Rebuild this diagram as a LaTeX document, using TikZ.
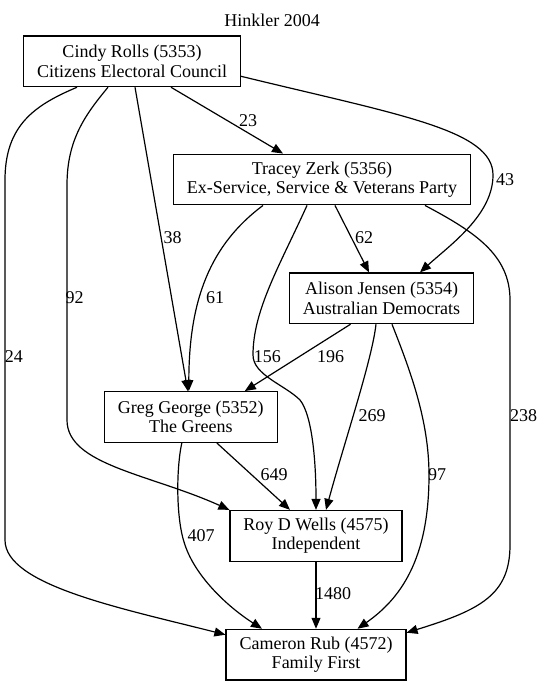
\documentclass[tikz,border=0pt]{standalone}
\usepackage{fontspec}
\setmainfont{Liberation Serif}
\usetikzlibrary{arrows.meta}

\begin{document}
\begin{tikzpicture}[x=1pt, y=-1pt,
            every node/.style={font=\fontsize{18}{19.5}\selectfont},
            party_style/.style={draw, line width=1.2pt, align=center, inner xsep=13.5pt, inner ysep=0pt, minimum height=50.7pt},
            edge_style/.style={draw=black, line width=1.2pt, -{Triangle[length=11pt, width=9pt]}}]
            \tikzset{vote_style/.style={inner sep=0pt}}
            \useasboundingbox (0, 0) rectangle (544, 685);
            \node (title) at (272, 20.7) {Hinkler 2004};
            \node [party_style] (cindy) at (132, 61.3) {Cindy Rolls (5353)\\Citizens Electoral Council};
            \node [party_style] (tracey) at (322, 179.5) {Tracey Zerk (5356)\\Ex-Service, Service \& Veterans Party};
            \node [party_style] (alison) at (381.5, 298.3) {Alison Jensen (5354)\\Australian Democrats};
            \node [party_style] (greg) at (190.8, 417) {Greg George (5352)\\The Greens};
            \node [party_style] (roy) at (316, 535.8) {Roy D Wells (4575)\\Independent};
            \node [party_style] (cameron) at (316, 654.7) {Cameron Rub (4572)\\Family First};
            % from Cindy Rolls
            \draw [edge_style] ([xshift=39pt]cindy.south) -- ([xshift=-39pt]tracey.north);
            \draw [edge_style] ([yshift=-15pt]cindy.east) .. controls (400, 115) and (493, 130) .. (493, 175) .. controls (493, 215) and (450, 245) .. ([xshift=38.5pt]alison.north);
            \draw [edge_style] ([xshift=3pt]cindy.south) -- ([xshift=-3pt]greg.north);
            \draw [edge_style] ([xshift=-24pt]cindy.south) .. controls (85, 115) and (67, 140) .. (67, 185) -- (67, 420) .. controls (67, 465) and (150, 474) .. (roy.north west);
            \draw [edge_style] ([xshift=-55pt]cindy.south) .. controls (35, 105) and (5, 125) .. (5, 180) -- (5, 540) .. controls (5, 585) and (120, 608) .. ([yshift=20pt]cameron.west);
            % from Tracey Zerk
            \draw [edge_style] ([xshift=-59pt]tracey.south) .. controls (210, 245) and (189, 300) .. ([xshift=-2pt]greg.north);
            \draw [edge_style] ([xshift=-15pt]tracey.south) .. controls (280, 265) and (253, 310) .. (253, 355) .. controls (253, 375) and (285, 385) .. (300, 400) .. controls (312, 415) and (316, 460) .. (roy.north);
            \draw [edge_style] ([xshift=13pt]tracey.south) -- ([xshift=-12.5pt]alison.north);
            \draw [edge_style] ([xshift=103pt]tracey.south) .. controls (475, 232) and (510, 255) .. (510, 300) -- (510, 545) .. controls (510, 595) and (480, 610) .. ([yshift=22pt]cameron.east);
            % from Alison Jensen
            \draw [edge_style] ([xshift=-31pt]alison.south) -- ([xshift=54pt]greg.north);
            \draw [edge_style] ([xshift=-5.5pt]alison.south) .. controls (372, 360) and (345, 440) .. ([xshift=10pt]roy.north);
            \draw [edge_style] ([xshift=10.5pt]alison.south) .. controls (410, 370) and (429, 420) .. (429, 475) .. controls (429, 560) and (400, 599) .. ([xshift=41.5pt]cameron.north);
            % from Greg George and Roy D Wells
            \draw [edge_style] ([xshift=26pt]greg.south) -- ([xshift=-26pt]roy.north);
            \draw [edge_style] ([xshift=-9pt]greg.south) .. controls (176, 470) and (176, 520) .. (185, 545) .. controls (195, 575) and (225, 605) .. ([xshift=-54pt]cameron.north);
            \draw [edge_style] (roy) -- (cameron);
            % vote counts
            \node [vote_style] (v23) at (248, 121) {23};
            \node [vote_style] (v43) at (505, 180) {43};
            \node [vote_style] (v38) at (172.6, 238) {38};
            \node [vote_style] (v92) at (74.7, 298) {92};
            \node [vote_style] (v24) at (14, 357) {24};
            \node [vote_style] (v61) at (215, 298) {61};
            \node [vote_style] (v156) at (267.4, 357) {156};
            \node [vote_style] (v62) at (364, 238) {62};
            \node [vote_style] (v238) at (523.6, 416) {238};
            \node [vote_style] (v196) at (330.6, 357) {196};
            \node [vote_style] (v269) at (372, 416) {269};
            \node [vote_style] (v97) at (437, 475) {97};
            \node [vote_style] (v649) at (274, 475) {649};
            \node [vote_style] (v407) at (201, 536) {407};
            \node [vote_style] (v1480) at (333, 594) {1480};
        \end{tikzpicture}
\end{document}
